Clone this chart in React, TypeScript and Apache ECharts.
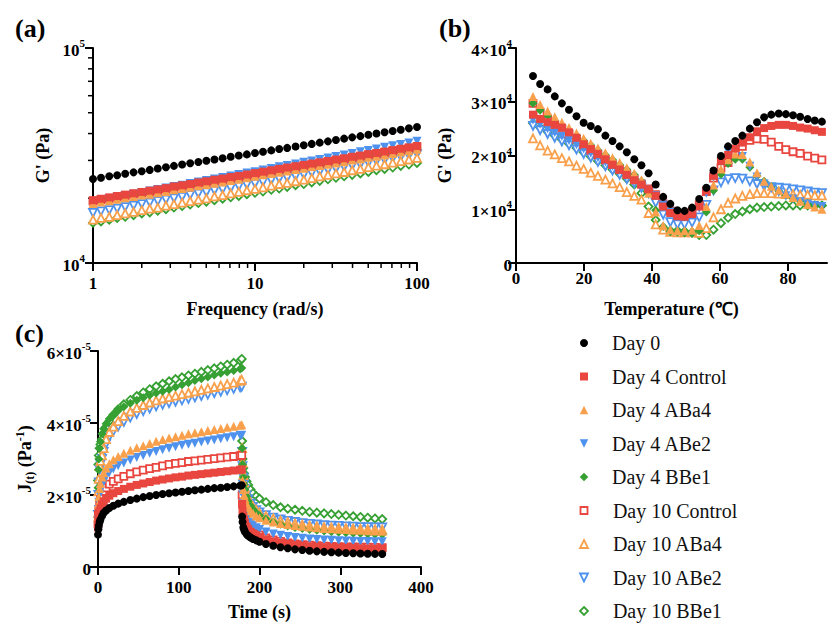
import React, { useEffect, useRef } from "react";
import * as echarts from "echarts";

const FONT = '"Liberation Serif", "Times New Roman", serif';
const BLACK = "#000000";
const RED = "#E8463F";
const ORANGE = "#F9A04C";
const BLUE = "#4E92EE";
const GREEN = "#36A033";

const seriesNames = [
  "Day 0",
  "Day 4 Control",
  "Day 4 ABa4",
  "Day 4 ABe2",
  "Day 4 BBe1",
  "Day 10 Control",
  "Day 10 ABa4",
  "Day 10 ABe2",
  "Day 10 BBe1",
];

// ---------- Panel (a): G' (Pa) vs frequency (rad/s) ----------
const freq = [1, 1.12, 1.26, 1.41, 1.58, 1.78, 2, 2.24, 2.51, 2.82, 3.16, 3.55, 3.98, 4.47, 5.01, 5.62, 6.31, 7.08, 7.94, 8.91, 10, 11.2, 12.6, 14.1, 15.8, 17.8, 20, 22.4, 25.1, 28.2, 31.6, 35.5, 39.8, 44.7, 50.1, 56.2, 63.1, 70.8, 79.4, 89.1, 100];
const aDay0 = [24600, 24900, 25300, 25600, 26000, 26400, 26700, 27100, 27500, 27900, 28300, 28700, 29100, 29500, 29900, 30300, 30700, 31200, 31600, 32000, 32500, 32900, 33400, 33900, 34300, 34800, 35300, 35800, 36300, 36800, 37300, 37900, 38400, 38900, 39500, 40000, 40600, 41100, 41700, 42300, 42900];
const aD4Control = [19600, 19900, 20200, 20500, 20800, 21100, 21400, 21700, 22000, 22300, 22700, 23000, 23300, 23700, 24000, 24400, 24700, 25100, 25400, 25800, 26200, 26600, 27000, 27400, 27800, 28200, 28600, 29000, 29400, 29800, 30300, 30700, 31200, 31600, 32100, 32500, 33000, 33500, 34000, 34500, 35000];
const aD4ABa4 = [18900, 19200, 19500, 19800, 20100, 20400, 20700, 20900, 21200, 21500, 21900, 22200, 22500, 22900, 23200, 23500, 23800, 24200, 24500, 24900, 25300, 25700, 26100, 26400, 26800, 27200, 27600, 28000, 28400, 28800, 29200, 29600, 30100, 30500, 31000, 31400, 31800, 32300, 32800, 33300, 33800];
const aD4ABe2 = [19300, 19600, 19900, 20300, 20600, 20900, 21300, 21600, 22000, 22300, 22700, 23000, 23400, 23800, 24200, 24600, 25000, 25400, 25800, 26200, 26600, 27100, 27500, 28000, 28400, 28900, 29400, 29800, 30300, 30800, 31300, 31800, 32300, 32900, 33400, 33900, 34500, 35100, 35600, 36200, 36800];
const aD4BBe1 = [19200, 19500, 19800, 20100, 20400, 20700, 21000, 21300, 21600, 21900, 22200, 22500, 22800, 23200, 23500, 23900, 24200, 24600, 24900, 25300, 25700, 26100, 26500, 26900, 27200, 27600, 28000, 28400, 28800, 29200, 29700, 30100, 30600, 31000, 31500, 31900, 32300, 32800, 33300, 33800, 34300];
const aD10Control = [19400, 19700, 20000, 20300, 20600, 20900, 21200, 21500, 21800, 22100, 22500, 22800, 23100, 23500, 23800, 24200, 24500, 24800, 25100, 25500, 25900, 26300, 26700, 27100, 27500, 27900, 28300, 28700, 29100, 29500, 30000, 30400, 30900, 31300, 31800, 32200, 32700, 33200, 33700, 34200, 34700];
const aD10ABa4 = [15900, 16200, 16400, 16700, 17000, 17300, 17600, 17900, 18100, 18500, 18800, 19100, 19400, 19700, 20000, 20400, 20700, 21100, 21400, 21800, 22100, 22500, 22900, 23300, 23600, 24000, 24400, 24800, 25300, 25700, 26100, 26500, 27000, 27400, 27900, 28400, 28800, 29300, 29800, 30300, 30800];
const aD10ABe2 = [17100, 17400, 17600, 17900, 18200, 18500, 18800, 19100, 19400, 19700, 20000, 20300, 20700, 21000, 21300, 21700, 22000, 22300, 22700, 23100, 23400, 23800, 24200, 24600, 24900, 25300, 25700, 26200, 26600, 27000, 27400, 27900, 28300, 28700, 29200, 29700, 30100, 30600, 31100, 31600, 32100];
const aD10BBe1 = [15400, 15600, 15900, 16200, 16400, 16700, 17000, 17200, 17500, 17800, 18100, 18400, 18700, 19000, 19300, 19600, 19900, 20200, 20500, 20900, 21200, 21500, 21900, 22200, 22600, 23000, 23300, 23700, 24100, 24500, 24900, 25300, 25700, 26100, 26500, 27000, 27400, 27800, 28300, 28700, 29200];
const aMinorX = [2, 3, 4, 5, 6, 7, 8, 9, 20, 30, 40, 50, 60, 70, 80, 90];
const aMinorY = [20000, 30000, 40000, 50000, 60000, 70000, 80000, 90000];

// ---------- Panel (b): G' (x10^4 Pa) vs temperature (°C) ----------
const temp = [5, 7.1, 9.3, 11.4, 13.5, 15.6, 17.8, 19.9, 22, 24.1, 26.3, 28.4, 30.5, 32.6, 34.8, 36.9, 39, 41.1, 43.3, 45.4, 47.5, 49.6, 51.8, 53.9, 56, 58.1, 60.3, 62.4, 64.5, 66.6, 68.8, 70.9, 73, 75.1, 77.3, 79.4, 81.5, 83.6, 85.8, 87.9, 90];
const bDay0 = [3.48, 3.33, 3.23, 3.10, 2.97, 2.85, 2.73, 2.61, 2.55, 2.49, 2.37, 2.27, 2.17, 2.06, 1.93, 1.82, 1.67, 1.46, 1.23, 1.10, 0.98, 0.97, 1.03, 1.19, 1.40, 1.72, 1.99, 2.17, 2.27, 2.37, 2.50, 2.62, 2.71, 2.76, 2.78, 2.77, 2.75, 2.72, 2.68, 2.65, 2.63];
const bD4Control = [2.76, 2.68, 2.62, 2.57, 2.52, 2.43, 2.33, 2.21, 2.12, 2.03, 1.93, 1.83, 1.74, 1.64, 1.54, 1.46, 1.37, 1.25, 1.05, 0.93, 0.87, 0.86, 0.91, 1.05, 1.35, 1.62, 1.90, 2.01, 2.13, 2.24, 2.34, 2.45, 2.51, 2.55, 2.57, 2.57, 2.55, 2.52, 2.50, 2.47, 2.44];
const bD4ABa4 = [3.10, 2.95, 2.83, 2.72, 2.62, 2.52, 2.42, 2.32, 2.23, 2.14, 2.05, 1.96, 1.87, 1.77, 1.67, 1.55, 1.30, 0.95, 0.70, 0.62, 0.60, 0.60, 0.61, 0.70, 1.05, 1.45, 1.75, 1.92, 2.03, 2.02, 1.88, 1.68, 1.52, 1.43, 1.36, 1.29, 1.22, 1.15, 1.09, 1.04, 1.00];
const bD4ABe2 = [2.66, 2.58, 2.50, 2.43, 2.36, 2.28, 2.20, 2.12, 2.04, 1.96, 1.88, 1.80, 1.72, 1.63, 1.54, 1.45, 1.36, 1.25, 1.08, 0.95, 0.88, 0.87, 0.90, 1.02, 1.30, 1.60, 1.88, 2.08, 2.10, 1.98, 1.80, 1.60, 1.47, 1.38, 1.31, 1.25, 1.19, 1.14, 1.10, 1.07, 1.05];
const bD4BBe1 = [2.97, 2.84, 2.74, 2.64, 2.55, 2.46, 2.37, 2.28, 2.19, 2.10, 2.01, 1.92, 1.83, 1.74, 1.64, 1.52, 1.30, 0.98, 0.68, 0.58, 0.57, 0.56, 0.55, 0.60, 0.95, 1.35, 1.65, 1.85, 1.93, 1.93, 1.78, 1.62, 1.52, 1.42, 1.34, 1.26, 1.20, 1.15, 1.11, 1.08, 1.06];
const bD10Control = [2.97, 2.80, 2.68, 2.58, 2.50, 2.40, 2.30, 2.20, 2.10, 2.01, 1.92, 1.83, 1.74, 1.65, 1.56, 1.47, 1.38, 1.27, 1.10, 0.97, 0.92, 0.91, 0.95, 1.08, 1.33, 1.58, 1.77, 1.87, 2.02, 2.17, 2.28, 2.31, 2.30, 2.25, 2.17, 2.11, 2.07, 2.04, 1.99, 1.95, 1.92];
const bD10ABa4 = [2.32, 2.19, 2.09, 2.02, 1.95, 1.89, 1.81, 1.75, 1.68, 1.62, 1.55, 1.48, 1.41, 1.32, 1.25, 1.18, 0.93, 0.72, 0.62, 0.58, 0.57, 0.57, 0.57, 0.56, 0.65, 0.85, 1.00, 1.12, 1.20, 1.25, 1.28, 1.30, 1.30, 1.30, 1.29, 1.28, 1.28, 1.27, 1.27, 1.26, 1.26];
const bD10ABe2 = [2.55, 2.47, 2.40, 2.33, 2.26, 2.19, 2.11, 2.03, 1.96, 1.88, 1.80, 1.72, 1.64, 1.56, 1.48, 1.40, 1.30, 1.12, 0.90, 0.76, 0.72, 0.72, 0.75, 0.85, 1.08, 1.35, 1.50, 1.56, 1.58, 1.57, 1.52, 1.47, 1.43, 1.41, 1.40, 1.39, 1.37, 1.35, 1.33, 1.31, 1.30];
const bD10BBe1 = [2.60, 2.52, 2.44, 2.37, 2.30, 2.22, 2.14, 2.06, 1.98, 1.90, 1.82, 1.74, 1.66, 1.57, 1.46, 1.30, 1.05, 0.80, 0.65, 0.60, 0.60, 0.59, 0.57, 0.52, 0.52, 0.62, 0.74, 0.84, 0.91, 0.96, 1.00, 1.03, 1.04, 1.05, 1.06, 1.07, 1.07, 1.07, 1.07, 1.07, 1.07];

// ---------- Panel (c): J(t) (x10^-5 Pa^-1) vs time (s) ----------
const cTime = [0, 0.5, 1, 2, 3, 5, 7, 10, 14, 19, 25, 32, 40, 48, 56, 64, 72, 80, 88, 96, 104, 112, 120, 128, 136, 144, 152, 160, 168, 176, 178, 178.5, 179, 180, 181, 182, 184, 186, 189, 192, 196, 200, 208, 217, 226, 235, 244, 253, 262, 271, 280, 289, 298, 307, 316, 325, 334, 343, 352];
const cDay0 = [0.90, 1.05, 1.15, 1.25, 1.32, 1.42, 1.50, 1.57, 1.64, 1.70, 1.76, 1.81, 1.86, 1.90, 1.94, 1.97, 2.00, 2.03, 2.05, 2.07, 2.09, 2.11, 2.13, 2.15, 2.17, 2.19, 2.20, 2.22, 2.24, 2.26, 2.27, 1.40, 1.25, 1.10, 1.03, 0.98, 0.91, 0.87, 0.82, 0.78, 0.74, 0.70, 0.64, 0.59, 0.55, 0.52, 0.49, 0.47, 0.45, 0.435, 0.42, 0.41, 0.40, 0.39, 0.38, 0.375, 0.37, 0.365, 0.36];
const cD4Control = [1.10, 1.30, 1.42, 1.55, 1.63, 1.74, 1.82, 1.90, 1.98, 2.05, 2.11, 2.17, 2.23, 2.28, 2.32, 2.36, 2.40, 2.43, 2.46, 2.49, 2.51, 2.54, 2.56, 2.58, 2.60, 2.62, 2.64, 2.66, 2.68, 2.70, 2.71, 1.75, 1.55, 1.40, 1.30, 1.22, 1.12, 1.05, 0.98, 0.93, 0.88, 0.84, 0.77, 0.71, 0.67, 0.64, 0.61, 0.59, 0.575, 0.56, 0.55, 0.54, 0.535, 0.53, 0.525, 0.52, 0.515, 0.51, 0.51];
const cD4ABa4 = [1.40, 1.75, 1.95, 2.18, 2.32, 2.50, 2.62, 2.75, 2.87, 2.98, 3.07, 3.16, 3.24, 3.31, 3.37, 3.43, 3.49, 3.54, 3.58, 3.62, 3.66, 3.70, 3.73, 3.76, 3.79, 3.82, 3.85, 3.88, 3.91, 3.94, 3.95, 2.70, 2.40, 2.15, 2.00, 1.90, 1.76, 1.66, 1.56, 1.49, 1.42, 1.37, 1.30, 1.25, 1.21, 1.18, 1.15, 1.13, 1.11, 1.09, 1.07, 1.06, 1.05, 1.04, 1.03, 1.02, 1.01, 1.00, 0.99];
const cD4ABe2 = [1.30, 1.60, 1.80, 2.00, 2.12, 2.28, 2.38, 2.50, 2.62, 2.72, 2.81, 2.89, 2.97, 3.04, 3.10, 3.16, 3.21, 3.26, 3.30, 3.34, 3.38, 3.41, 3.44, 3.47, 3.50, 3.53, 3.56, 3.59, 3.62, 3.65, 3.66, 2.30, 2.00, 1.78, 1.64, 1.54, 1.41, 1.32, 1.23, 1.16, 1.09, 1.04, 0.97, 0.92, 0.88, 0.85, 0.82, 0.80, 0.78, 0.765, 0.75, 0.74, 0.73, 0.72, 0.715, 0.71, 0.705, 0.70, 0.70];
const cD4BBe1 = [2.20, 2.70, 3.00, 3.30, 3.48, 3.70, 3.84, 3.98, 4.12, 4.24, 4.35, 4.45, 4.55, 4.63, 4.70, 4.77, 4.83, 4.88, 4.93, 5.00, 5.06, 5.12, 5.18, 5.23, 5.28, 5.33, 5.38, 5.42, 5.46, 5.50, 5.53, 3.30, 2.85, 2.50, 2.30, 2.15, 1.96, 1.83, 1.70, 1.60, 1.50, 1.43, 1.33, 1.25, 1.19, 1.14, 1.10, 1.07, 1.04, 1.02, 1.00, 0.98, 0.965, 0.95, 0.94, 0.93, 0.92, 0.91, 0.90];
const cD10Control = [1.20, 1.45, 1.60, 1.77, 1.87, 2.00, 2.10, 2.20, 2.30, 2.38, 2.45, 2.52, 2.59, 2.64, 2.69, 2.73, 2.77, 2.81, 2.85, 2.88, 2.90, 2.93, 2.95, 2.97, 2.99, 3.01, 3.03, 3.05, 3.07, 3.09, 3.10, 2.00, 1.75, 1.55, 1.43, 1.34, 1.22, 1.14, 1.06, 0.99, 0.93, 0.89, 0.81, 0.75, 0.71, 0.67, 0.64, 0.62, 0.605, 0.59, 0.58, 0.57, 0.565, 0.56, 0.555, 0.55, 0.55, 0.545, 0.54];
const cD10ABa4 = [1.50, 2.10, 2.45, 2.80, 2.95, 3.10, 3.30, 3.55, 3.75, 3.90, 4.05, 4.20, 4.32, 4.42, 4.50, 4.57, 4.63, 4.68, 4.72, 4.76, 4.80, 4.84, 4.88, 4.92, 4.96, 5.00, 5.04, 5.08, 5.12, 5.17, 5.20, 3.30, 2.90, 2.55, 2.35, 2.20, 2.02, 1.90, 1.77, 1.68, 1.58, 1.51, 1.42, 1.35, 1.29, 1.25, 1.21, 1.18, 1.15, 1.13, 1.11, 1.10, 1.09, 1.08, 1.07, 1.06, 1.05, 1.05, 1.04];
const cD10ABe2 = [1.45, 2.00, 2.35, 2.70, 2.85, 3.00, 3.20, 3.42, 3.62, 3.77, 3.90, 4.03, 4.15, 4.25, 4.33, 4.40, 4.46, 4.51, 4.55, 4.59, 4.63, 4.67, 4.71, 4.75, 4.79, 4.83, 4.87, 4.91, 4.95, 4.99, 5.01, 3.20, 2.80, 2.48, 2.30, 2.16, 1.99, 1.88, 1.76, 1.67, 1.58, 1.52, 1.44, 1.37, 1.32, 1.28, 1.25, 1.22, 1.20, 1.18, 1.16, 1.15, 1.14, 1.13, 1.12, 1.11, 1.11, 1.10, 1.10];
const cD10BBe1 = [2.40, 2.85, 3.10, 3.30, 3.40, 3.55, 3.70, 3.88, 4.05, 4.22, 4.38, 4.52, 4.64, 4.75, 4.85, 4.94, 5.02, 5.09, 5.16, 5.22, 5.27, 5.32, 5.37, 5.42, 5.47, 5.52, 5.57, 5.62, 5.67, 5.73, 5.78, 3.50, 3.00, 2.75, 2.60, 2.50, 2.38, 2.28, 2.15, 2.05, 1.97, 1.90, 1.80, 1.72, 1.66, 1.62, 1.59, 1.56, 1.53, 1.51, 1.49, 1.47, 1.45, 1.43, 1.41, 1.39, 1.37, 1.35, 1.33];

const aValues: Record<string, number[]> = {
  "Day 0": aDay0, "Day 4 Control": aD4Control, "Day 4 ABa4": aD4ABa4, "Day 4 ABe2": aD4ABe2, "Day 4 BBe1": aD4BBe1,
  "Day 10 Control": aD10Control, "Day 10 ABa4": aD10ABa4, "Day 10 ABe2": aD10ABe2, "Day 10 BBe1": aD10BBe1,
};
const bValues: Record<string, number[]> = {
  "Day 0": bDay0, "Day 4 Control": bD4Control, "Day 4 ABa4": bD4ABa4, "Day 4 ABe2": bD4ABe2, "Day 4 BBe1": bD4BBe1,
  "Day 10 Control": bD10Control, "Day 10 ABa4": bD10ABa4, "Day 10 ABe2": bD10ABe2, "Day 10 BBe1": bD10BBe1,
};
const cValues: Record<string, number[]> = {
  "Day 0": cDay0, "Day 4 Control": cD4Control, "Day 4 ABa4": cD4ABa4, "Day 4 ABe2": cD4ABe2, "Day 4 BBe1": cD4BBe1,
  "Day 10 Control": cD10Control, "Day 10 ABa4": cD10ABa4, "Day 10 ABe2": cD10ABe2, "Day 10 BBe1": cD10BBe1,
};

type Sty = { symbol: string; color: string; open: boolean; rotate: number; size: number };
const styleOf: Record<string, Sty> = {
  "Day 0": { symbol: "circle", color: BLACK, open: false, rotate: 0, size: 8 },
  "Day 4 Control": { symbol: "rect", color: RED, open: false, rotate: 0, size: 8 },
  "Day 4 ABa4": { symbol: "triangle", color: ORANGE, open: false, rotate: 0, size: 9 },
  "Day 4 ABe2": { symbol: "triangle", color: BLUE, open: false, rotate: 180, size: 9 },
  "Day 4 BBe1": { symbol: "diamond", color: GREEN, open: false, rotate: 0, size: 9 },
  "Day 10 Control": { symbol: "rect", color: RED, open: true, rotate: 0, size: 7 },
  "Day 10 ABa4": { symbol: "triangle", color: ORANGE, open: true, rotate: 0, size: 8 },
  "Day 10 ABe2": { symbol: "triangle", color: BLUE, open: true, rotate: 180, size: 8 },
  "Day 10 BBe1": { symbol: "diamond", color: GREEN, open: true, rotate: 0, size: 8 },
};

const drawOrder = [
  "Day 10 BBe1", "Day 10 ABe2", "Day 10 ABa4", "Day 10 Control",
  "Day 4 BBe1", "Day 4 ABe2", "Day 4 ABa4", "Day 4 Control", "Day 0",
];

function itemStyleOf(st: Sty) {
  return st.open
    ? { color: "#ffffff", borderColor: st.color, borderWidth: 1.8, opacity: 1 }
    : { color: st.color, opacity: 1 };
}

function scatter(name: string, xs: number[], ys: number[], idx: number) {
  const st = styleOf[name];
  return {
    type: "scatter",
    name,
    xAxisIndex: idx,
    yAxisIndex: idx,
    data: xs.map((x, i) => [x, ys[i]]),
    symbol: st.symbol,
    symbolSize: st.size,
    symbolRotate: st.rotate,
    itemStyle: itemStyleOf(st),
    emphasis: { disabled: true },
    silent: true,
  };
}

const tickLabel = { fontFamily: FONT, fontWeight: "bold", fontSize: 17, color: "#000" };
const richLabel = {
  n: { fontFamily: FONT, fontWeight: "bold", fontSize: 17, color: "#000", lineHeight: 21, verticalAlign: "bottom" },
  s: { fontFamily: FONT, fontWeight: "bold", fontSize: 11, color: "#000", lineHeight: 9, verticalAlign: "top" },
};
const nameStyle = { fontFamily: FONT, fontWeight: "bold", fontSize: 18, color: "#000" };
const axisLine = { show: true, onZero: false, lineStyle: { color: "#000", width: 2 } };
const axisTick = { show: true, inside: false, length: 8, lineStyle: { color: "#000", width: 2 } };

export default function App() {
  const ref = useRef<HTMLDivElement>(null);
  useEffect(() => {
    if (!ref.current) return;
    const chart = echarts.init(ref.current, undefined, { renderer: "svg" });
    const series: any[] = [];
    drawOrder.forEach((n) => series.push(scatter(n, freq, aValues[n], 0)));
    drawOrder.forEach((n) => series.push(scatter(n, temp, bValues[n], 1)));
    drawOrder.forEach((n) => series.push(scatter(n, cTime, cValues[n], 2)));
    // legend rows: one marker + label per series, placed by a hidden category axis
    seriesNames.forEach((n) => {
      const st = styleOf[n];
      const sz = Math.min(st.size, 8.5);
      series.push({
        type: "scatter",
        name: "legend-" + n,
        xAxisIndex: 3,
        yAxisIndex: 3,
        data: [[0, n]],
        symbol: st.symbol,
        symbolSize: sz,
        symbolRotate: st.rotate,
        itemStyle: itemStyleOf(st),
        silent: true,
        emphasis: { disabled: true },
        label: {
          show: true,
          position: "right",
          distance: 28 - sz / 2,
          formatter: n,
          fontFamily: FONT,
          fontSize: 20,
          color: "#111",
        },
      });
    });
    // minor ticks on the log axes of panel (a)
    series.push({
      type: "custom",
      xAxisIndex: 0,
      yAxisIndex: 0,
      clip: false,
      silent: true,
      data: aMinorX.map((v) => [v, 10000]),
      renderItem: (_p: any, api: any) => {
        const p = api.coord([api.value(0), api.value(1)]);
        return { type: "line", shape: { x1: p[0], y1: p[1], x2: p[0], y2: p[1] + 5 }, style: { stroke: "#000", lineWidth: 1.5 } };
      },
    });
    series.push({
      type: "custom",
      xAxisIndex: 0,
      yAxisIndex: 0,
      clip: false,
      silent: true,
      data: aMinorY.map((v) => [1, v]),
      renderItem: (_p: any, api: any) => {
        const p = api.coord([api.value(0), api.value(1)]);
        return { type: "line", shape: { x1: p[0] - 5, y1: p[1], x2: p[0], y2: p[1] }, style: { stroke: "#000", lineWidth: 1.5 } };
      },
    });

    const option: any = {
      animation: false,
      backgroundColor: "#ffffff",
      grid: [
        { left: 93, top: 48, width: 324, height: 215 },
        { left: 516, top: 48, width: 311, height: 215 },
        { left: 98, top: 351, width: 323, height: 216 },
        { left: 574, top: 343, width: 20, height: 268 },
      ],
      xAxis: [
        {
          type: "log", gridIndex: 0, logBase: 10, min: 1, max: 100,
          axisLine, axisTick, splitLine: { show: false },
          axisLabel: { ...tickLabel, margin: 12 },
          name: "Frequency (rad/s)", nameLocation: "middle", nameGap: 37, nameTextStyle: nameStyle,
        },
        {
          type: "value", gridIndex: 1, min: 0, max: 91.5, interval: 20,
          axisLine, axisTick, splitLine: { show: false },
          axisLabel: { ...tickLabel, margin: 7, showMaxLabel: false },
          name: "Temperature (℃)", nameLocation: "middle", nameGap: 37, nameTextStyle: nameStyle,
        },
        {
          type: "value", gridIndex: 2, min: 0, max: 400, interval: 100,
          axisLine, axisTick, splitLine: { show: false },
          axisLabel: { ...tickLabel, margin: 12 },
          name: "Time (s)", nameLocation: "middle", nameGap: 36, nameTextStyle: nameStyle,
        },
        { type: "value", gridIndex: 3, min: -1, max: 1, show: false },
      ],
      yAxis: [
        {
          type: "log", gridIndex: 0, logBase: 10, min: 10000, max: 100000,
          axisLine, axisTick, splitLine: { show: false },
          axisLabel: {
            margin: 8,
            formatter: (v: number) => `{n|10}{s|${Math.round(Math.log10(v))}}`,
            rich: richLabel,
          },
          name: "G' (Pa)", nameLocation: "middle", nameGap: 41, nameTextStyle: nameStyle,
        },
        {
          type: "value", gridIndex: 1, min: 0, max: 4, interval: 1,
          axisLine, axisTick, splitLine: { show: false },
          axisLabel: {
            margin: 4,
            formatter: (v: number) => (v === 0 ? "{n|0}" : `{n|${v}×10}{s|4}`),
            rich: richLabel,
          },
          name: "G' (Pa)", nameLocation: "middle", nameGap: 62, nameTextStyle: nameStyle,
        },
        {
          type: "value", gridIndex: 2, min: 0, max: 6, interval: 2,
          axisLine, axisTick, splitLine: { show: false },
          axisLabel: {
            margin: 7,
            formatter: (v: number) => (v === 0 ? "{n|0}" : `{n|${v}×10}{s|-5}`),
            rich: richLabel,
          },
          name: "{n|J}{sub|(t)}{n| (Pa}{sup|-1}{n|)}",
          nameLocation: "middle",
          nameGap: 62,
          nameTextStyle: {
            ...nameStyle,
            rich: {
              n: { ...nameStyle, lineHeight: 22, verticalAlign: "middle" },
              sub: { fontFamily: FONT, fontWeight: "bold", fontSize: 12, color: "#000", lineHeight: 10, verticalAlign: "bottom" },
              sup: { fontFamily: FONT, fontWeight: "bold", fontSize: 12, color: "#000", lineHeight: 10, verticalAlign: "top" },
            },
          },
        },
        {
          type: "category", gridIndex: 3, data: seriesNames, inverse: true, boundaryGap: false, show: false,
        },
      ],
      graphic: [
        { type: "text", left: 15, top: 15, style: { text: "(a)", font: `bold 26px ${FONT}`, fill: "#000" } },
        { type: "text", left: 439, top: 15, style: { text: "(b)", font: `bold 26px ${FONT}`, fill: "#000" } },
        { type: "text", left: 15, top: 320, style: { text: "(c)", font: `bold 26px ${FONT}`, fill: "#000" } },
      ],
      series,
    };
    chart.setOption(option);
    return () => chart.dispose();
  }, []);
  return (
    <div
      ref={ref}
      style={{ position: "fixed", left: 0, top: 0, width: 828, height: 624, background: "#fff" }}
    />
  );
}
